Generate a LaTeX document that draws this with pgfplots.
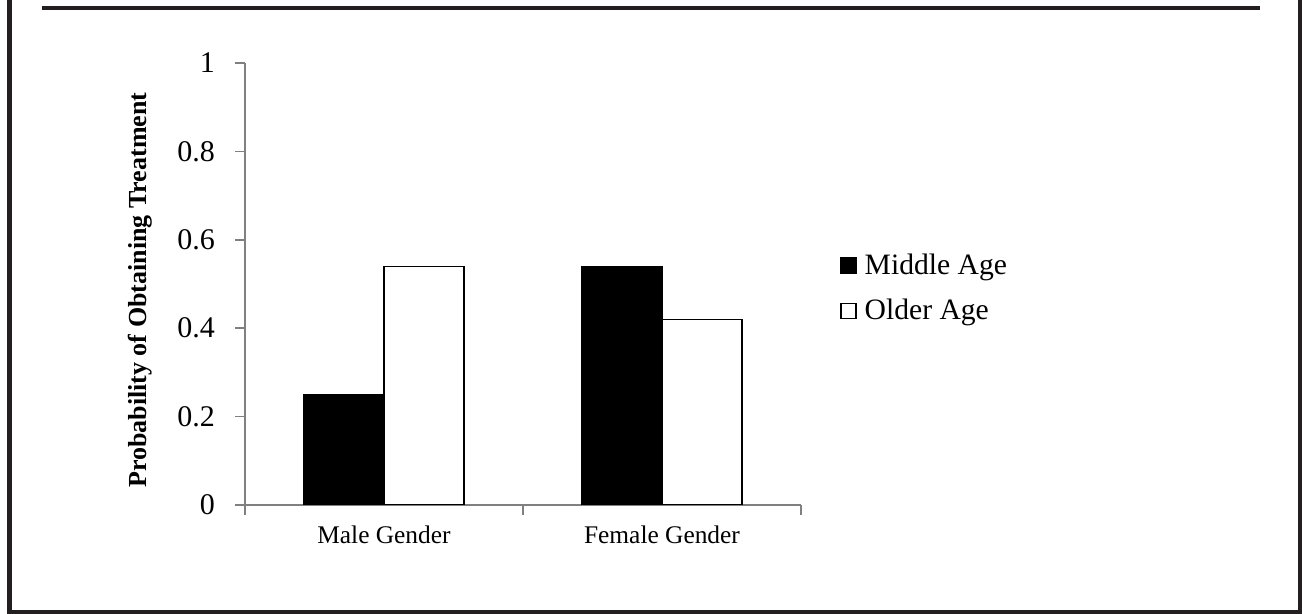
\documentclass[border=0pt]{standalone}
\usepackage{fontspec}
\setmainfont{Liberation Serif}
\usepackage{pgfplots}
\pgfplotsset{compat=1.18}
\definecolor{axisgray}{RGB}{128,128,128}
\definecolor{framegray}{RGB}{35,31,32}
\begin{document}
\begin{tikzpicture}
% page = 651pt x 307pt, i.e. half a reference pixel per pt
\useasboundingbox (0pt,0pt) rectangle (651pt,-307pt);
\draw[framegray, line width=2.2pt] (4.8pt,0pt) -- (4.8pt,-306pt) -- (650.3pt,-306pt) -- (650.3pt,0pt);
\draw[framegray, line width=1.6pt] (21pt,-4pt) -- (630pt,-4pt);
\begin{axis}[
    at={(122.5pt,-252.5pt)}, anchor=origin,
    scale only axis,
    width=278pt, height=221pt,
    xmin=0, xmax=2, ymin=0, ymax=1,
    enlargelimits=false,
    axis lines=left,
    axis line style={-, draw=axisgray, line width=0.8pt},
    tick style={draw=axisgray, line width=0.8pt},
    tick align=outside,
    major tick length=5pt,
    xtick={0,1,2}, xticklabels={},
    ytick={0,0.2,0.4,0.6,0.8,1},
    /pgf/number format/assume math mode=true,
    yticklabel style={font=\fontsize{15}{18}\selectfont, xshift=-6.5pt},
    extra x ticks={0.5,1.5},
    extra x tick labels={Male Gender, Female Gender},
    extra x tick style={major tick length=0pt,
        tick label style={font=\fontsize{12.7}{15}\selectfont, yshift=-7pt}},
    ylabel={Probability of Obtaining Treatment},
    ylabel style={font=\fontsize{13}{15}\selectfont\bfseries,
        at={(axis description cs:-0.189,0.486)}, anchor=center},
    ybar=0pt, bar width=40pt,
    legend style={at={(axis description cs:1.070,0.49)}, anchor=west,
        draw=none, fill=none, inner sep=0pt, row sep=7pt, column sep=2pt,
        font=\fontsize{14.8}{17}\selectfont, cells={anchor=west}},
    legend image code/.code={\draw[#1, line width=0.7pt] (0pt,-3.75pt) rectangle (7.5pt,3.75pt);},
]
\addplot[fill=black, draw=black, line width=0.7pt] coordinates {(0.5,0.25) (1.5,0.54)};
\addplot[fill=white, draw=black, line width=0.7pt] coordinates {(0.5,0.54) (1.5,0.42)};
\legend{Middle Age, Older Age}
\end{axis}
\end{tikzpicture}
\end{document}
